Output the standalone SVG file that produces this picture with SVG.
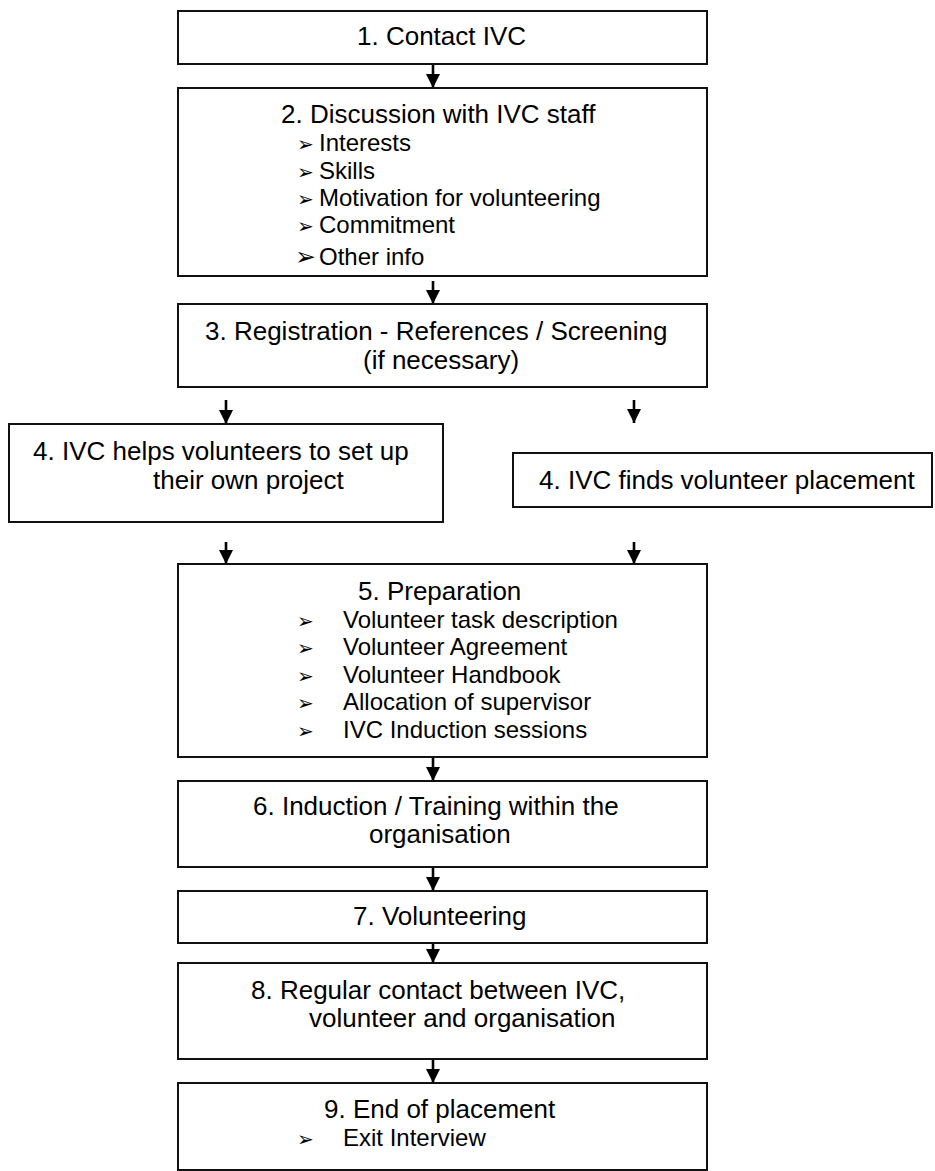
<svg xmlns="http://www.w3.org/2000/svg" width="935" height="1171" viewBox="0 0 935 1171">
<style>
.box{fill:#fff;stroke:#111;stroke-width:2}
.t{font-family:"Liberation Sans",Arial,sans-serif;font-size:26px;fill:#000}
.b{font-family:"Liberation Sans",Arial,sans-serif;font-size:24px;fill:#000}
.bul{font-family:"DejaVu Sans",sans-serif;font-size:20px;fill:#000}
.con{stroke:#000;stroke-width:2.6;fill:none}
</style>
<defs>
<marker id="ah" viewBox="0 0 14 14" refX="14" refY="7" markerWidth="14" markerHeight="14" markerUnits="userSpaceOnUse" orient="auto">
<path d="M0,0 L14,7 L0,14 z" fill="#000"/>
</marker>
</defs>
<rect width="935" height="1171" fill="#fff"/>
<g id="connectors">
<line class="con" x1="433" y1="64" x2="433" y2="88" marker-end="url(#ah)"/>
<line class="con" x1="433" y1="281" x2="433" y2="304" marker-end="url(#ah)"/>
<line class="con" x1="226" y1="400" x2="226" y2="424" marker-end="url(#ah)"/>
<line class="con" x1="634" y1="400" x2="634" y2="423" marker-end="url(#ah)"/>
<line class="con" x1="226" y1="542" x2="226" y2="564" marker-end="url(#ah)"/>
<line class="con" x1="634" y1="542" x2="634" y2="564" marker-end="url(#ah)"/>
<line class="con" x1="433" y1="757" x2="433" y2="781" marker-end="url(#ah)"/>
<line class="con" x1="433" y1="867" x2="433" y2="891" marker-end="url(#ah)"/>
<line class="con" x1="433" y1="943" x2="433" y2="963" marker-end="url(#ah)"/>
<line class="con" x1="433" y1="1059" x2="433" y2="1083" marker-end="url(#ah)"/>
</g>
<g id="n1">
<rect class="box" x="178" y="11" width="529" height="53"/>
<text class="t" x="357" y="45">1. Contact IVC</text>
</g>
<g id="n2">
<rect class="box" x="178" y="88" width="529" height="188"/>
<text class="t" x="281" y="123">2. Discussion with IVC staff</text>
<text class="bul" x="297" y="151">➢</text><text class="b" x="319" y="151">Interests</text>
<text class="bul" x="297" y="179">➢</text><text class="b" x="319" y="179">Skills</text>
<text class="bul" x="297" y="206">➢</text><text class="b" x="319" y="206">Motivation for volunteering</text>
<text class="bul" x="297" y="233">➢</text><text class="b" x="319" y="233">Commitment</text>
<text class="bul" x="295" y="265" style="font-size:25px">➢</text><text class="b" x="319" y="265">Other info</text>
</g>
<g id="n3">
<rect class="box" x="178" y="304" width="529" height="83"/>
<text class="t" x="205" y="340">3. Registration - References / Screening</text>
<text class="t" x="363" y="369">(if necessary)</text>
</g>
<g id="n4a">
<rect class="box" x="9" y="424" width="434" height="98"/>
<text class="t" x="33" y="460">4. IVC helps volunteers to set up</text>
<text class="t" x="153" y="489">their own project</text>
</g>
<g id="n4b">
<rect class="box" x="513" y="453" width="419" height="54"/>
<text class="t" x="539" y="489">4. IVC finds volunteer placement</text>
</g>
<g id="n5">
<rect class="box" x="178" y="564" width="529" height="193"/>
<text class="t" x="358" y="600">5. Preparation</text>
<text class="bul" x="297" y="628">➢</text><text class="b" x="343" y="628">Volunteer task description</text>
<text class="bul" x="297" y="655">➢</text><text class="b" x="343" y="655">Volunteer Agreement</text>
<text class="bul" x="297" y="683">➢</text><text class="b" x="343" y="683">Volunteer Handbook</text>
<text class="bul" x="297" y="710">➢</text><text class="b" x="343" y="710">Allocation of supervisor</text>
<text class="bul" x="297" y="738">➢</text><text class="b" x="343" y="738">IVC Induction sessions</text>
</g>
<g id="n6">
<rect class="box" x="178" y="781" width="529" height="86"/>
<text class="t" x="253" y="815">6. Induction / Training within the</text>
<text class="t" x="369" y="843">organisation</text>
</g>
<g id="n7">
<rect class="box" x="178" y="891" width="529" height="52"/>
<text class="t" x="353" y="925">7. Volunteering</text>
</g>
<g id="n8">
<rect class="box" x="178" y="963" width="529" height="96"/>
<text class="t" x="251" y="999">8. Regular contact between IVC,</text>
<text class="t" x="309" y="1027">volunteer and organisation</text>
</g>
<g id="n9">
<rect class="box" x="178" y="1083" width="529" height="87"/>
<text class="t" x="324" y="1118">9. End of placement</text>
<text class="bul" x="297" y="1146">➢</text><text class="b" x="343" y="1146">Exit Interview</text>
</g>
</svg>
